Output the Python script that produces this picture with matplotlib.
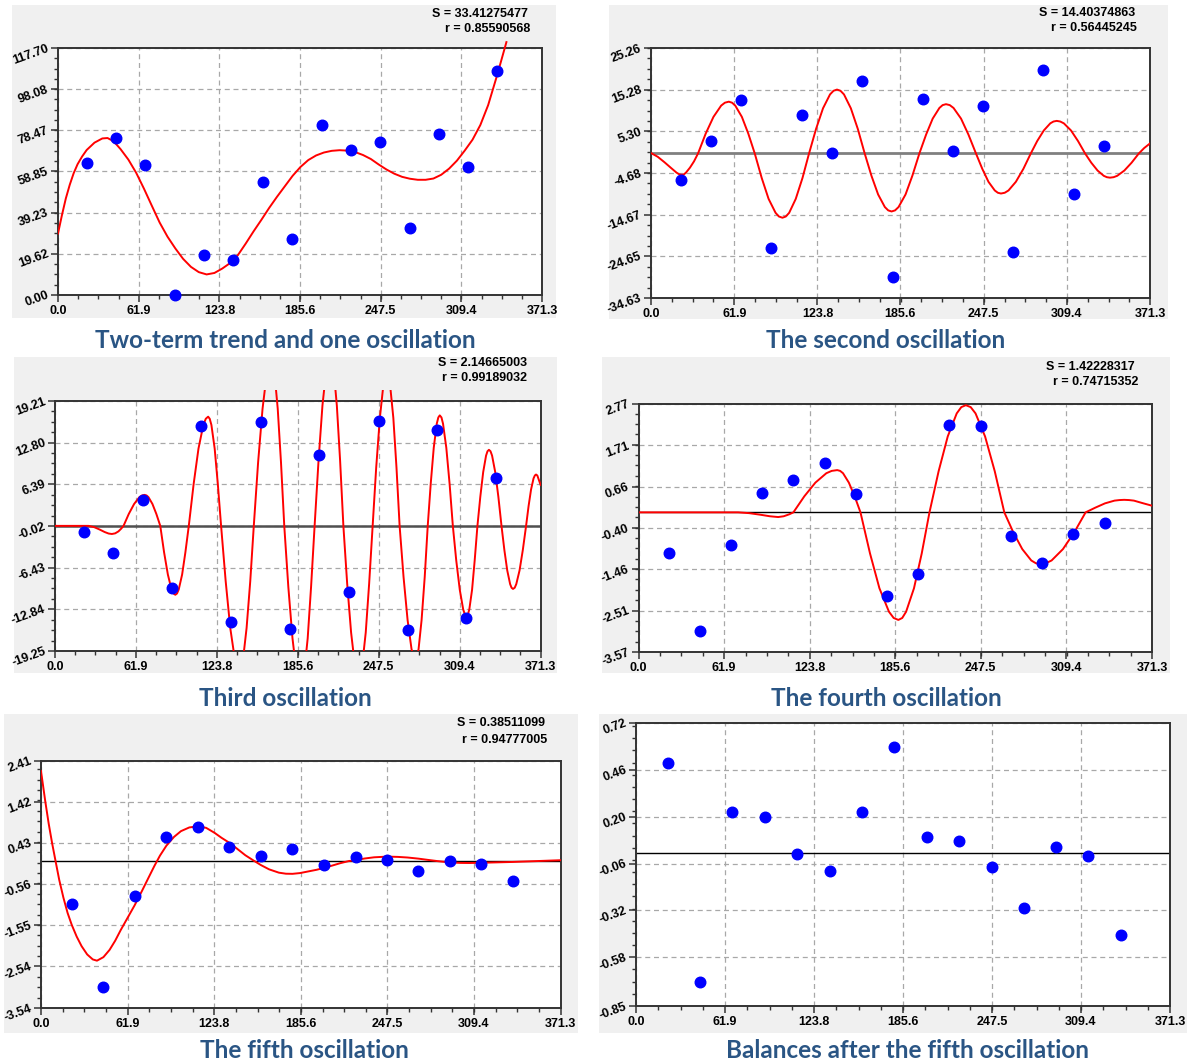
import matplotlib
matplotlib.use("Agg")
import matplotlib.pyplot as plt
from matplotlib.patches import Rectangle
from matplotlib.ticker import AutoMinorLocator
from matplotlib.transforms import Bbox, TransformedBbox

W, H = 1187, 1064

# observation abscissas (same for every panel)
x_obs = [22.1, 44.6, 67.0, 89.6, 112.0, 134.6, 157.2, 179.7, 202.2, 224.8, 247.4, 269.7, 292.0, 314.5, 337.0]

# observed values in each panel
p1_y = [62.8, 74.8, 62.0, 0.0, 19.0, 16.6, 53.9, 26.9, 80.8, 69.2, 72.8, 31.8, 76.7, 60.9, 106.9]
p2_y = [-6.3, 2.9, 12.7, -22.6, 9.1, 0.0, 17.3, -29.7, 13.0, 0.6, 11.3, -23.7, 20.1, -9.8, 1.9]
p3_y = [-1.0, -4.2, 4.0, -9.6, 15.4, -14.8, 16.0, -15.8, 10.9, -10.1, 16.1, -16.0, 14.7, -14.1, 7.3]
p4_y = [-1.04, -3.04, -0.83, 0.50, 0.82, 1.25, 0.46, -2.14, -1.58, 2.23, 2.22, -0.61, -1.29, -0.56, -0.27]
p5_y = [-1.04, -3.03, -0.83, 0.57, 0.83, 0.34, 0.13, 0.28, -0.09, 0.09, 0.03, -0.25, 0.0, -0.06, -0.48]
p6_y = [0.50, -0.715, 0.228, 0.198, -0.006, -0.10, 0.228, 0.588, 0.09, 0.068, -0.077, -0.308, 0.033, -0.018, -0.458]

# model curves
c1_x = [0, 3, 6, 9, 12, 15, 18.5, 22, 28, 34, 38, 41, 44.6, 48, 54, 60, 66, 72, 78, 84, 90, 96, 102,
        108, 114, 120, 126, 132, 138, 144, 150, 156, 162, 168, 174, 180, 186, 192, 198, 204, 210, 216, 222,
        228, 234, 240, 246, 252, 258, 264, 270, 276, 282, 288, 294, 300, 306, 312, 318, 324, 330, 337, 344]
c1_y = [29.3, 38.0, 46.0, 52.5, 58.0, 62.3, 66.0, 69.1, 72.6, 74.6, 74.8, 73.8, 71.9, 69.5, 64.5, 58.2, 50.6, 42.5, 34.5, 27.8, 22.2, 17.2, 13.4,
        10.9, 9.8, 10.5, 12.6, 15.2, 19.0, 24.5, 30.3, 35.8, 41.5, 46.8, 51.8, 56.8, 61.0, 64.3, 66.5, 67.9, 68.7, 69.0, 68.8,
        68.1, 66.7, 64.8, 62.2, 59.8, 57.8, 56.3, 55.4, 54.9, 54.9, 55.5, 57.3, 60.2, 64.0, 68.8, 74.0, 81.0, 90.5, 105.0, 120.5]

c2_x = [0, 5, 10, 15, 19, 21, 22.8, 24.5, 26, 29, 32, 35,
        40.7, 46.5, 52.2, 55.0, 57.9, 60.3, 62.7, 67.6, 72.4, 77.2,
        82.4, 87.5, 92.7, 95.2, 97.8, 100.3, 102.8, 107.7, 112.7, 117.6,
        122.8, 128.0, 133.2, 135.8, 138.4, 141.0, 143.6, 148.7, 153.9, 159.0,
        164.0, 169.0, 174.0, 176.5, 179.0, 181.6, 184.2, 189.4, 194.5, 199.7,
        204.7, 209.6, 214.6, 217.0, 219.5, 222.3, 225.1, 230.7, 236.2, 241.8,
        246.5, 251.1, 255.8, 258.1, 260.4, 263.2, 266.0, 271.5, 277.1, 282.6,
        287.4, 292.3, 297.1, 299.5, 301.9, 304.5, 307.2, 312.5, 317.7, 323.0,
        327.6, 332.3, 336.9, 339.2, 341.5, 344.2, 346.9, 352.2, 357.6, 363.0, 367.0, 371.3]
c2_y = [0.1, -0.8, -2.1, -3.5, -4.6, -5.0, -5.1, -5.0, -4.6, -3.4, -1.9, 0.0,
        4.75, 8.77, 11.46, 12.16, 12.4, 12.16, 11.46, 8.77, 4.75, 0.0,
        -5.9, -10.89, -14.23, -15.11, -15.4, -15.11, -14.23, -10.89, -5.9, 0.0,
        5.86, 10.82, 14.14, 15.01, 15.3, 15.01, 14.14, 10.82, 5.86, 0.0,
        -5.32, -9.83, -12.84, -13.64, -13.9, -13.64, -12.84, -9.83, -5.32, 0.0,
        4.52, 8.34, 10.9, 11.58, 11.8, 11.58, 10.9, 8.34, 4.52, 0.0,
        -3.68, -6.79, -8.87, -9.42, -9.6, -9.42, -8.87, -6.79, -3.68, 0.0,
        2.99, 5.51, 7.21, 7.65, 7.8, 7.65, 7.21, 5.51, 2.99, 0.0,
        -2.22, -4.1, -5.36, -5.69, -5.8, -5.69, -5.36, -4.1, -2.22, 0.0, 1.3, 2.4]

c3_x = [0, 12, 25.6, 30, 34, 38, 41, 43.5, 46, 48.5, 50.5, 52.4,
        56.4, 60.5, 64.5, 66.5, 68.5, 70.0, 71.5, 74.5, 77.5, 80.5,
        83.4, 86.3, 89.1, 90.6, 92.0, 93.3, 94.6, 97.2, 99.7, 102.3,
        106.0, 109.7, 113.4, 115.3, 117.1, 118.3, 119.6, 122.1, 124.5, 127.0,
        130.5, 134.0, 137.5, 139.3, 141.0, 142.4, 143.8, 146.5, 149.3, 152.0,
        155.3, 158.7, 162.0, 163.6, 165.3, 166.6, 167.8, 170.3, 172.8, 175.3,
        178.4, 181.6, 184.7, 186.2, 187.8, 189.1, 190.5, 193.2, 195.8, 198.5,
        201.5, 204.5, 207.5, 209.0, 210.5, 211.8, 213.0, 215.5, 218.0, 220.5,
        223.4, 226.4, 229.3, 230.7, 232.2, 233.5, 234.9, 237.6, 240.2, 242.9,
        245.6, 248.4, 251.1, 252.4, 253.8, 255.0, 256.2, 258.7, 261.1, 263.5,
        266.5, 269.6, 272.6, 274.1, 275.6, 276.8, 278.0, 280.3, 282.7, 285.0,
        287.3, 289.6, 291.9, 293.1, 294.2, 295.5, 296.7, 299.2, 301.7, 304.2,
        306.8, 309.5, 312.1, 313.4, 314.7, 315.7, 316.8, 318.9, 320.9, 323.0,
        325.2, 327.4, 329.6, 330.7, 331.8, 333.0, 334.2, 336.6, 339.0, 341.4,
        343.6, 345.8, 348.0, 349.1, 350.2, 351.5, 352.7, 355.2, 357.7, 360.2,
        362.1, 364.0, 365.9, 366.9, 367.8, 368.8, 369.6, 371.3]
c3_y = [0, 0, 0, -0.2, -0.55, -0.95, -1.18, -1.25, -1.15, -0.85, -0.45, 0,
        1.83, 3.37, 4.41, 4.68, 4.77, 4.68, 4.41, 3.37, 1.83, 0,
        -4.06, -7.49, -9.79, -10.4, -10.6, -10.4, -9.79, -7.49, -4.06, 0,
        6.43, 11.88, 15.52, 16.48, 16.8, 16.48, 15.52, 11.88, 6.43, 0,
        -8.5, -15.7, -20.51, -21.78, -22.2, -21.78, -20.51, -15.7, -8.5, 0,
        9.77, 18.03, 23.56, 25.02, 25.5, 25.02, 23.56, 18.03, 9.77, 0,
        -9.38, -17.32, -22.64, -24.03, -24.5, -24.03, -22.64, -17.32, -9.38, 0,
        10.03, 18.52, 24.21, 25.7, 26.2, 25.7, 24.21, 18.52, 10.03, 0,
        -8.89, -16.4, -21.44, -22.76, -23.2, -22.76, -21.44, -16.4, -8.89, 0,
        9.0, 16.61, 21.71, 23.05, 23.5, 23.05, 21.71, 16.61, 9.0, 0,
        -7.85, -14.49, -18.94, -20.11, -20.5, -20.11, -18.94, -14.49, -7.85, 0,
        6.51, 12.02, 15.71, 16.68, 17.0, 16.68, 15.71, 12.02, 6.51, 0,
        -5.32, -9.83, -12.84, -13.64, -13.9, -13.64, -12.84, -9.83, -5.32, 0,
        4.48, 8.27, 10.81, 11.48, 11.7, 11.48, 10.81, 8.27, 4.48, 0,
        -3.72, -6.86, -8.96, -9.52, -9.7, -9.52, -8.96, -6.86, -3.72, 0,
        3.03, 5.59, 7.30, 7.75, 7.9, 7.75, 7.3, 6.3]

c4_x = [0, 36, 72, 80, 88, 95, 101, 105, 109, 112,
        119.9, 127.9, 135.8, 139.7, 143.7, 145.8, 147.9, 152.1, 156.3, 160.5,
        167.4, 174.2, 181.1, 184.5, 187.9, 190.7, 193.5, 199.2, 204.8, 210.4,
        217.0, 223.6, 230.1, 233.4, 236.7, 240.2, 243.7, 250.6, 257.6, 264.5,
        271.0, 277.5, 284.0, 287.3, 290.5, 294.6, 298.7, 306.9, 315.1, 323.3,
        330.3, 337.3, 344.2, 347.7, 351.2, 354.7, 358.2, 365.1, 371.3]
c4_y = [0, 0, 0, -0.02, -0.06, -0.10, -0.12, -0.10, -0.05, 0,
        0.41, 0.76, 1.0, 1.06, 1.08, 1.06, 1.0, 0.76, 0.41, 0,
        -1.05, -1.94, -2.54, -2.70, -2.75, -2.70, -2.54, -1.94, -1.05, 0,
        1.05, 1.94, 2.53, 2.69, 2.74, 2.69, 2.53, 1.94, 1.05, 0,
        -0.51, -0.94, -1.23, -1.30, -1.33, -1.30, -1.23, -0.94, -0.51, 0,
        0.12, 0.23, 0.30, 0.314, 0.32, 0.314, 0.30, 0.23, 0.17]

c5_x = [0, 3, 5.5, 8, 10.4, 13, 16, 19, 22, 25.5, 29, 33, 37, 40, 44.6, 49, 53, 57, 62, 67,
        72, 77, 81, 85, 89.6, 95, 100, 106, 112, 118, 124, 129, 134.6, 140, 146, 152, 157.2, 163, 170, 175,
        179.7, 185, 191, 197, 202.2, 208, 214, 220, 224.8, 231, 238, 247.4, 255, 262, 269.7, 276, 283, 292, 300, 306,
        314.5, 322, 330, 337, 345, 355, 363, 371.3]
c5_y = [2.17, 1.45, 0.90, 0.42, 0.0, -0.45, -0.88, -1.25, -1.54, -1.82, -2.05, -2.25, -2.37, -2.40, -2.315, -2.14, -1.92, -1.66, -1.36, -1.06,
        -0.73, -0.39, -0.12, 0.13, 0.37, 0.58, 0.72, 0.81, 0.836, 0.80, 0.68, 0.56, 0.44, 0.30, 0.14, 0.01, -0.098, -0.20, -0.28, -0.305,
        -0.308, -0.29, -0.25, -0.21, -0.165, -0.11, -0.05, 0.0, 0.022, 0.06, 0.09, 0.107, 0.10, 0.085, 0.058, 0.03, 0.0, -0.033, -0.045, -0.047,
        -0.042, -0.035, -0.028, -0.022, -0.012, 0.0, 0.01, 0.02]

# axis labels
x_labels = ["0.0", "61.9", "123.8", "185.6", "247.5", "309.4", "371.3"]
y1_labels = ["0.00", "19.62", "39.23", "58.85", "78.47", "98.08", "117.70"]
y2_labels = ["-34.63", "-24.65", "-14.67", "-4.68", "5.30", "15.28", "25.26"]
y3_labels = ["-19.25", "-12.84", "-6.43", "-0.02", "6.39", "12.80", "19.21"]
y4_labels = ["-3.57", "-2.51", "-1.46", "-0.40", "0.66", "1.71", "2.77"]
y5_labels = ["-3.54", "-2.54", "-1.55", "-0.56", "0.43", "1.42", "2.41"]
y6_labels = ["-0.85", "-0.58", "-0.32", "-0.06", "0.20", "0.46", "0.72"]

titles = ["Two-term trend and one oscillation", "The second oscillation", "Third oscillation",
          "The fourth oscillation", "The fifth oscillation", "Balances after the fifth oscillation"]
stats = [("S = 33.41275477", "r = 0.85590568"), ("S = 14.40374863", "r = 0.56445245"),
         ("S = 2.14665003", "r = 0.99189032"), ("S = 1.42228317", "r = 0.74715352"),
         ("S = 0.38511099", "r = 0.94777005"), None]

NARROW = ["Liberation Sans Narrow", "Liberation Sans", "DejaVu Sans"]
TITLE_COLOR = "#2a5584"
PANEL_BG = "#f0f0f0"

fig = plt.figure(figsize=(W / 100, H / 100), dpi=100)
fig.patch.set_facecolor("white")


def px_rect(x0, y0, x1, y1):
    # pixel box (top-left origin) -> figure fraction [l, b, w, h]
    return [x0 / W, 1 - y1 / H, (x1 - x0) / W, (y1 - y0) / H]


def add_bg(x0, y0, x1, y1):
    l, b, w, h = px_rect(x0, y0, x1, y1)
    fig.add_artist(Rectangle((l, b), w, h, transform=fig.transFigure,
                             facecolor=PANEL_BG, edgecolor="none", zorder=-10))


def panel(box, ylabels, py, cx=None, cy=None, zero=None):
    ax = fig.add_axes(px_rect(*box))
    ax.set_facecolor("white")
    yt = [float(v) for v in ylabels]
    xt = [float(v) for v in x_labels]
    ax.set_xlim(xt[0], xt[-1])
    ax.set_ylim(yt[0], yt[-1])
    ax.set_xticks(xt)
    ax.set_xticklabels(x_labels, fontsize=9, fontweight="bold", family=NARROW)
    ax.set_yticks(yt)
    ax.set_yticklabels(ylabels, fontsize=9, fontweight="bold", family=NARROW,
                       rotation=20, ha="right", va="center", rotation_mode="anchor")
    ax.xaxis.set_minor_locator(AutoMinorLocator(4))
    ax.yaxis.set_minor_locator(AutoMinorLocator(4))
    ax.tick_params(which="major", direction="out", length=5, width=1.1, color="#333333", pad=2)
    ax.tick_params(which="minor", direction="out", length=3, width=1.0, color="#333333")
    for s in ax.spines.values():
        s.set_color("#333333")
        s.set_linewidth(1.4)
    ax.grid(True, which="major", linestyle=(0, (4, 3)), color="#a8a8a8", linewidth=0.9)
    ax.set_axisbelow(True)
    if zero is not None:
        ax.axhline(0, color=zero[0], linewidth=zero[1], zorder=2)
    if cx is not None:
        line, = ax.plot(cx, cy, color="#ff0000", linewidth=1.4, zorder=3,
                        solid_joinstyle="round")
        # the source program lets the curve run a little above the frame
        line.set_clip_box(TransformedBbox(Bbox([[0, 0], [1, 1.045]]), ax.transAxes))
    ax.plot(x_obs, py, "o", color="#0000ff", markersize=7.6, zorder=4, clip_on=False)
    return ax


# grey panel backgrounds
add_bg(12, 5, 556, 318)
add_bg(609, 5, 1168, 319)
add_bg(14, 357, 557, 673)
add_bg(602, 357, 1170, 673)
add_bg(4, 714, 578, 1033)
add_bg(599, 714, 1187, 1033)

panel((58, 48, 542, 295), y1_labels, p1_y, c1_x, c1_y)
panel((651, 48, 1150, 298), y2_labels, p2_y, c2_x, c2_y, zero=("#808080", 2.0))
panel((55, 401, 540.6, 651), y3_labels, p3_y, c3_x, c3_y, zero=("#505050", 1.8))
panel((638.5, 404, 1152, 652), y4_labels, p4_y, c4_x, c4_y, zero=("#000000", 1.0))
panel((41, 761, 560.6, 1008), y5_labels, p5_y, c5_x, c5_y, zero=("#000000", 1.0))
panel((636, 723, 1170, 1006), y6_labels, p6_y, zero=("#000000", 1.0))

# S / r annotations (right edge x, centre y in pixels)
stat_pos = [(528, 14, 530, 29), (1135, 13, 1137, 28), (527, 363, 527, 378),
            (1135, 367, 1138, 382), (545, 723, 547, 740)]
for st, pos in zip(stats, stat_pos):
    if st is None:
        continue
    fig.text(pos[0] / W, 1 - pos[1] / H, st[0], ha="right", va="center",
             fontsize=9, fontweight="bold", family=NARROW)
    fig.text(pos[2] / W, 1 - pos[3] / H, st[1], ha="right", va="center",
             fontsize=9, fontweight="bold", family=NARROW)

# captions under each panel
title_pos = [(285, 340), (886, 340), (285, 699), (886, 699), (304, 1050), (907, 1050)]
for t, (tx, ty) in zip(titles, title_pos):
    fig.text(tx / W, 1 - ty / H, t, ha="center", va="center", fontsize=17.5,
             fontweight="bold", family=["Lato", "Open Sans", "DejaVu Sans"], color=TITLE_COLOR)

fig.savefig("out.png", dpi=100, facecolor="white")
